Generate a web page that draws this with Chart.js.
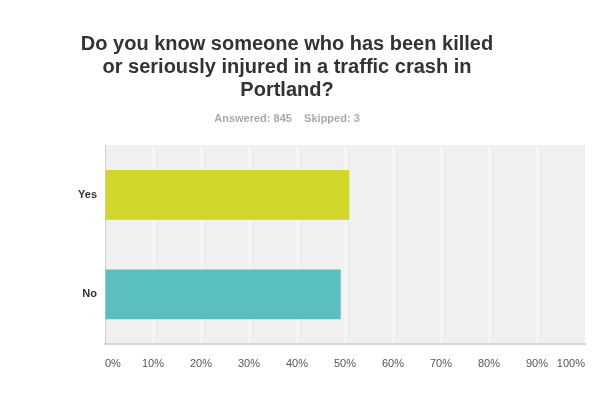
<!DOCTYPE html>
<html>
<head>
<meta charset="utf-8">
<script src="https://cdn.jsdelivr.net/npm/chart.js@4"></script>
<style>
html,body{margin:0;padding:0;background:#fff;}
#wrap{width:610px;height:398px;position:relative;}
</style>
</head>
<body>
<div id="wrap"><canvas id="c" width="610" height="398"></canvas></div>
<script>
const titleLines = ["Do you know someone who has been killed", "or seriously injured in a traffic crash in", "Portland?"];
const subtitleText = "Answered: 845    Skipped: 3";
const categories = ["Yes", "No"];
const values = [50.89, 49.11];
const barColors = ["#d1d62a", "#5bbfbf"];
const tickLabels = ["0%","10%","20%","30%","40%","50%","60%","70%","80%","90%","100%"];

const bgPlugin = {
  id: 'plotBg',
  beforeDraw(chart) {
    const a = chart.chartArea, ctx = chart.ctx;
    ctx.save();
    ctx.fillStyle = '#f0f0f0';
    ctx.fillRect(a.left, a.top, a.right - a.left, a.bottom - a.top);
    ctx.restore();
  },
  afterDraw(chart) {
    const ctx = chart.ctx;
    ctx.save();
    ctx.textAlign = 'center';
    ctx.textBaseline = 'middle';
    ctx.fillStyle = '#333333';
    ctx.font = 'bold 20px "Liberation Sans", Arial, sans-serif';
    titleLines.forEach((t, i) => ctx.fillText(t, 287, 44 + i * 23));
    ctx.fillStyle = '#aaaaaa';
    ctx.font = 'bold 11px "Liberation Sans", Arial, sans-serif';
    ctx.fillText(subtitleText, 287, 119);
    ctx.restore();
  }
};

new Chart(document.getElementById('c'), {
  type: 'bar',
  data: {
    labels: categories,
    datasets: [{
      data: values,
      backgroundColor: barColors,
      borderWidth: 0,
      barPercentage: 0.5,
      categoryPercentage: 1.0
    }]
  },
  options: {
    indexAxis: 'y',
    responsive: false,
    animation: false,
    layout: { padding: { top: 145, right: 25, bottom: 14, left: 0 } },
    plugins: { legend: { display: false }, tooltip: { enabled: false }, title: { display: false } },
    scales: {
      x: {
        min: 0, max: 100,
        afterFit(s) { s.height = 40; },
        afterBuildTicks(s) { s.ticks = tickLabels.map((l, i) => ({ value: i * 10 })); },
        ticks: {
          stepSize: 10,
          align: 'inner',
          padding: 13,
          color: '#555555',
          font: { family: '"Liberation Sans", Arial, sans-serif', size: 11 },
          callback: (v, i) => tickLabels[i]
        },
        grid: { color: '#ffffff', lineWidth: 1, drawTicks: false },
        border: { color: '#d6d6d6', width: 2 }
      },
      y: {
        afterFit(s) { s.width = 105; },
        ticks: {
          padding: 8,
          color: '#333333',
          font: { family: '"Liberation Sans", Arial, sans-serif', size: 11, weight: 'bold' }
        },
        grid: { display: false, drawTicks: false },
        border: { color: '#d0d0d0', width: 1 }
      }
    }
  },
  plugins: [bgPlugin]
});
</script>
</body>
</html>
